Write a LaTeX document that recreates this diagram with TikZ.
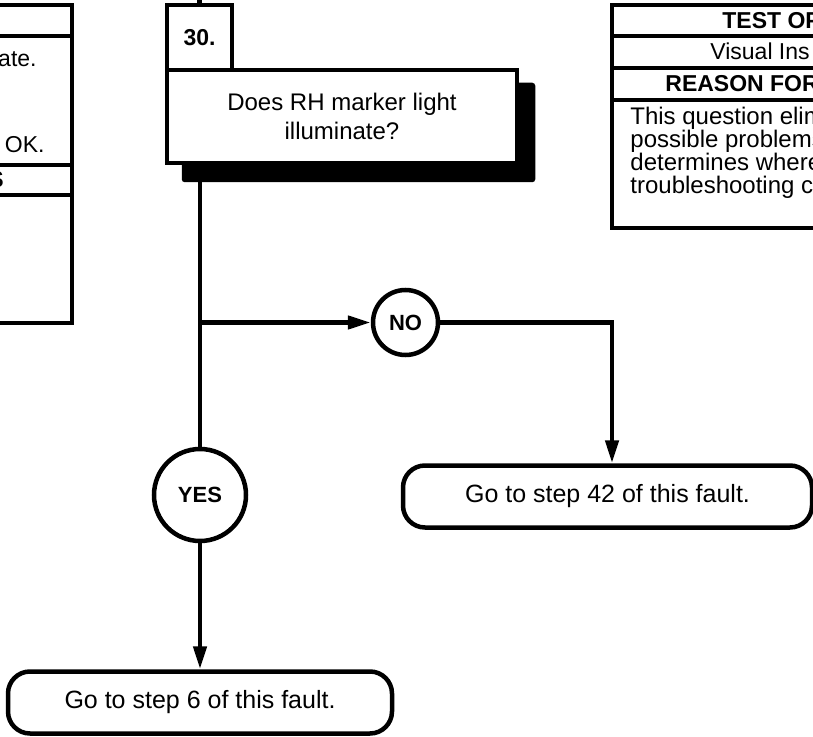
\documentclass[tikz,border=0pt]{standalone}
\usepackage{fontspec}
\setmainfont{Liberation Sans}
\usetikzlibrary{arrows.meta,backgrounds}
\tikzset{
  >={Triangle[length=11.5pt,width=6.5pt]},
  wire/.style={line width=2.25pt},
  flow/.style={->,line width=2.25pt},
  stepno/.style={draw,line width=2.25pt,fill=white,minimum width=32.5pt,minimum height=32.5pt,
    font=\fontsize{11.5}{14}\selectfont\bfseries},
  question/.style={draw,line width=2.25pt,fill=white,minimum width=175pt,minimum height=46.5pt,
    align=center,font=\fontsize{12}{14.5}\selectfont},
  answer/.style={circle,draw,line width=2.25pt,fill=white,inner sep=0pt,minimum size=#1,
    font=\fontsize{11}{13}\selectfont\bfseries},
  answer/.default=32.5pt,
  goto/.style={draw,line width=2.25pt,rounded corners=11pt,fill=white,minimum height=31pt,
    font=\fontsize{12.5}{15}\selectfont},
  cell/.style={inner sep=0pt,font=\fontsize{11.5}{11.5}\selectfont},
  headcell/.style={cell,font=\fontsize{11.5}{11.5}\selectfont\bfseries},
  bodycell/.style={cell,font=\fontsize{12}{11.35}\selectfont},
}
\begin{document}
\begin{tikzpicture}[x=0.5pt,y=-0.5pt]
  \useasboundingbox (0,0) rectangle (813,737);
  \clip (0,0) rectangle (813,737);
  % previous step panel, cut off at the left
  \draw[wire] (-20,5) -| (72,323) -- (-20,323);
  \foreach \y in {36,165,195} \draw[wire] (-20,\y) -- (72,\y);
  \node[cell,anchor=base east] (prevA) at (37,67) {ate.};
  \node[cell,anchor=base east] (prevB) at (45,153) {OK.};
  \node[headcell,anchor=base east] (prevC) at (4,188) {S};
  % test options panel, cut off at the right
  \draw[wire] (830,5) -| (612,228) -- (830,228);
  \foreach \y in {36,68,100} \draw[wire] (612,\y) -- (830,\y);
  \node[headcell,anchor=base west] (opt) at (722,29) {TEST OP};
  \node[cell,anchor=base west] (insp) at (710,60) {Visual Ins};
  \node[headcell,anchor=base west] (why) at (665,92) {REASON FOR};
  \foreach \txt [count=\i] in {This question elim,possible problems,determines where,troubleshooting c}
    \node[bodycell,anchor=base west] (why\i) at (630,102.3+22.7*\i) {\txt};
  % step 30
  \coordinate (prev) at (199.5,-5);
  \node[question] (q) at (342,116.5) {Does RH marker light\\illuminate?};
  \node[stepno] (num) at (199.5,37.5) {30.};
  \begin{scope}[on background layer]
    \fill[rounded corners=1.5pt] ([shift={(17,15)}]q.north west) rectangle ([shift={(16,17)}]q.south east);
  \end{scope}
  \node[answer=46pt] (yes) at (200,495) {YES};
  \node[answer] (no) at (405.5,322.5) {NO};
  \node[goto,minimum width=204.5pt] (go42) at (607.5,496.5) {Go to step 42 of this fault.};
  \node[goto,minimum width=192pt] (go6) at (200,702.5) {Go to step 6 of this fault.};
  \draw[wire] (prev) -- (num);
  \draw[wire] (q.south -| yes) -- (yes);
  \draw[flow] (yes |- no) -- (no);
  \draw[flow] (no) -| ([xshift=2.25pt]go42.north);
  \draw[flow] (yes) -- (go6);
\end{tikzpicture}
\end{document}
